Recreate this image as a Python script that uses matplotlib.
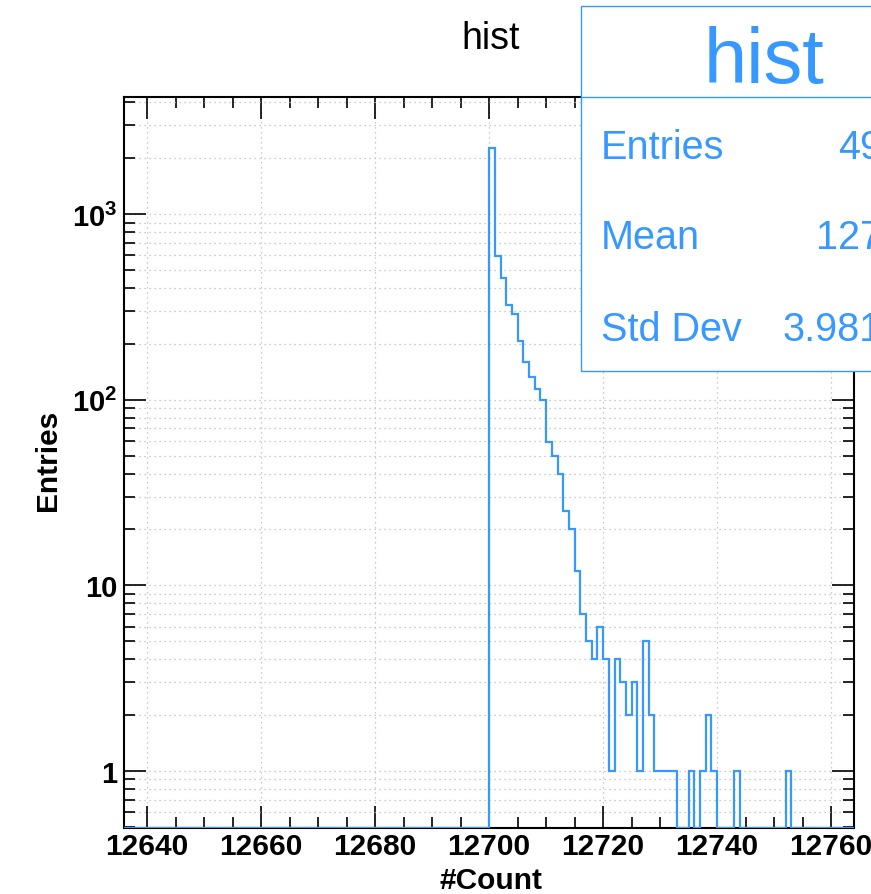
import numpy as np
import matplotlib
matplotlib.use('Agg')
import matplotlib.pyplot as plt
from matplotlib.patches import Rectangle
from matplotlib.lines import Line2D
from matplotlib.ticker import MultipleLocator, FixedLocator, FixedFormatter, NullFormatter

plt.rcParams['font.family'] = ['Liberation Sans', 'DejaVu Sans']
plt.rcParams['mathtext.fontset'] = 'custom'
plt.rcParams['mathtext.rm'] = 'Liberation Sans'
plt.rcParams['mathtext.bf'] = 'Liberation Sans:bold'

# histogram data, 1-wide bins
hist_lo = 12636
hist_hi = 12764
first_bin = 12700
counts = [2270, 592, 452, 324, 290, 207, 159, 132, 114, 99,
          59, 50, 40, 25, 20, 12, 7, 5, 4, 6,
          4, 1, 4, 3, 2, 3, 1, 5, 2, 1,
          1, 1, 1, 0, 0, 1, 0, 1, 2, 1,
          0, 0, 0, 1, 0, 0, 0, 0, 0, 0,
          0, 0, 1]
x_ticks = [12640, 12660, 12680, 12700, 12720, 12740, 12760]
y_ticks = [1, 10, 100, 1000]
y_ticklabels = ['1', '10', r'$\mathbf{10^{2}}$', r'$\mathbf{10^{3}}$']
stat_names = ['Entries', 'Mean', 'Std Dev']
stat_values = ['4903', '12703', '3.98123']

color = '#3799ff'
W, H = 871, 895
ymin, ymax = 0.493, 4270

edges = np.arange(hist_lo, hist_hi + 1)
full = np.zeros(len(edges) - 1)
full[first_bin - hist_lo:first_bin - hist_lo + len(counts)] = counts
drawn = np.where(full > 0, full, ymin)

fig = plt.figure(figsize=(W / 100, H / 100), dpi=100)
ax = fig.add_axes([124.3 / W, 1 - 829 / H, (854 - 124.3) / W, (829 - 98) / H])
ax.set_yscale('log')
ax.stairs(drawn, edges, baseline=None, color=color, lw=1.6, zorder=3)
ax.set_xlim(hist_lo, hist_hi)
ax.set_ylim(ymin, ymax)

ax.xaxis.set_major_locator(FixedLocator(x_ticks))
ax.xaxis.set_minor_locator(MultipleLocator(5))
ax.yaxis.set_major_locator(FixedLocator(y_ticks))
ax.yaxis.set_major_formatter(FixedFormatter(y_ticklabels))
ax.yaxis.set_minor_locator(matplotlib.ticker.LogLocator(base=10, subs=np.arange(2, 10)))
ax.yaxis.set_minor_formatter(NullFormatter())

ax.tick_params(which='both', direction='in', top=True, right=True, width=1.2, color='black')
ax.tick_params(which='major', length=16)
ax.tick_params(which='minor', length=8)
ax.tick_params(axis='x', labelsize=21.5, pad=3)
ax.tick_params(axis='y', labelsize=21, pad=5)
for lab in ax.get_xticklabels() + ax.get_yticklabels():
    lab.set_fontweight('bold')

ax.grid(True, which='major', axis='x', ls=(0, (1, 3)), color='#bbbbbb', lw=0.9)
ax.grid(True, which='both', axis='y', ls=(0, (1, 3)), color='#bbbbbb', lw=0.9)
ax.set_axisbelow(True)
for s in ax.spines.values():
    s.set_linewidth(1.5)

fig.text(491 / W, 1 - 49 / H, 'hist', fontsize=27, ha='center', va='baseline')
fig.text(491 / W, 1 - 889 / H, '#Count', fontsize=21.5, fontweight='bold', ha='center', va='baseline')
fig.text(48.5 / W, 1 - 460 / H, 'Entries', fontsize=21.5, fontweight='bold', rotation=90,
         ha='center', va='center')

# stats box
box_l, box_r, box_t, box_b = 581, 947, 7, 372
fig.add_artist(Rectangle((box_l / W, 1 - box_b / H), (box_r - box_l) / W, (box_b - box_t) / H,
                         transform=fig.transFigure, facecolor='white', edgecolor=color, lw=1.0, zorder=5))
fig.add_artist(Line2D([box_l / W, box_r / W], [1 - 98.3 / H, 1 - 98.3 / H],
                      transform=fig.transFigure, color=color, lw=1.0, zorder=6))
fig.text(764 / W, 1 - 82.7 / H, 'hist', fontsize=56, color=color, ha='center', va='baseline', zorder=7)
baselines = [159.3, 249.3, 340.7]
for name, val, yb in zip(stat_names, stat_values, baselines):
    fig.text(600.7 / W, 1 - yb / H, name, fontsize=28.5, color=color, ha='left', va='baseline', zorder=7)
    fig.text(926 / W, 1 - yb / H, val, fontsize=28.5, color=color, ha='right', va='baseline', zorder=7)

fig.savefig('out.png', dpi=100)
